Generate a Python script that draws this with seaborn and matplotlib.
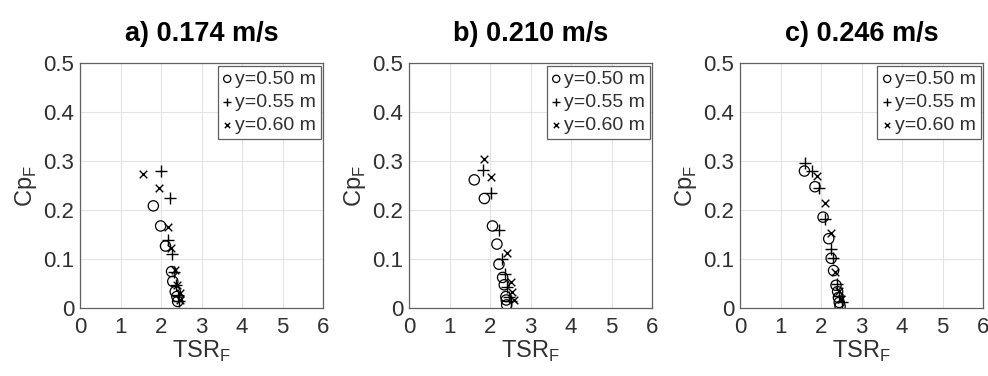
import pandas as pd
import matplotlib
matplotlib.use('Agg')
import matplotlib.pyplot as plt
import seaborn as sns

# panel titles
titles = ['a) 0.174 m/s', 'b) 0.210 m/s', 'c) 0.246 m/s']
labels = ['y=0.50 m', 'y=0.55 m', 'y=0.60 m']

# a) 0.174 m/s
a_tsr_50 = [1.81, 1.99, 2.11, 2.26, 2.29, 2.35, 2.39, 2.41]
a_cp_50 = [0.209, 0.168, 0.127, 0.075, 0.055, 0.034, 0.024, 0.014]
a_tsr_55 = [2.00, 2.21, 2.16, 2.26, 2.33, 2.37, 2.42, 2.45]
a_cp_55 = [0.281, 0.226, 0.140, 0.110, 0.075, 0.048, 0.027, 0.014]
a_tsr_60 = [1.56, 1.95, 2.16, 2.24, 2.35, 2.39, 2.47, 2.47]
a_cp_60 = [0.274, 0.245, 0.166, 0.123, 0.079, 0.048, 0.031, 0.017]

# b) 0.210 m/s
b_tsr_50 = [1.61, 1.86, 2.06, 2.17, 2.22, 2.31, 2.35, 2.39, 2.40, 2.41]
b_cp_50 = [0.262, 0.224, 0.168, 0.131, 0.090, 0.063, 0.048, 0.024, 0.017, 0.007]
b_tsr_55 = [1.82, 2.02, 2.21, 2.30, 2.37, 2.43, 2.47, 2.51]
b_cp_55 = [0.282, 0.235, 0.160, 0.100, 0.071, 0.044, 0.024, 0.014]
b_tsr_60 = [1.86, 2.02, 2.41, 2.51, 2.55, 2.59]
b_cp_60 = [0.305, 0.267, 0.112, 0.054, 0.034, 0.017]

# c) 0.246 m/s
c_tsr_50 = [1.59, 1.85, 2.05, 2.19, 2.25, 2.31, 2.37, 2.41, 2.43, 2.45, 2.47]
c_cp_50 = [0.280, 0.248, 0.186, 0.142, 0.102, 0.077, 0.047, 0.034, 0.022, 0.012, 0.004]
c_tsr_55 = [1.60, 1.78, 1.95, 2.10, 2.25, 2.29, 2.40, 2.45, 2.51]
c_cp_55 = [0.297, 0.280, 0.246, 0.183, 0.121, 0.102, 0.049, 0.026, 0.012]
c_tsr_60 = [1.91, 2.09, 2.25, 2.35, 2.45, 2.49]
c_cp_60 = [0.270, 0.214, 0.153, 0.075, 0.036, 0.018]

panels = [
    [(a_tsr_50, a_cp_50), (a_tsr_55, a_cp_55), (a_tsr_60, a_cp_60)],
    [(b_tsr_50, b_cp_50), (b_tsr_55, b_cp_55), (b_tsr_60, b_cp_60)],
    [(c_tsr_50, c_cp_50), (c_tsr_55, c_cp_55), (c_tsr_60, c_cp_60)],
]

sns.set_style('whitegrid')
plt.rcParams['font.family'] = ['Liberation Sans', 'DejaVu Sans']
plt.rcParams['mathtext.fontset'] = 'custom'
plt.rcParams['mathtext.rm'] = 'Liberation Sans'

fig = plt.figure(figsize=(9.88, 3.76), dpi=100)
lefts = [0.081, 0.414, 0.749]
txt = '#303030'

for i, left in enumerate(lefts):
    ax = fig.add_axes([left, 0.180, 0.246, 0.652])
    for j, (xs, ys) in enumerate(panels[i]):
        d = pd.DataFrame({'TSR': xs, 'Cp': ys})
        if j == 0:
            sns.scatterplot(data=d, x='TSR', y='Cp', ax=ax, marker='o', s=55,
                            facecolors='none', edgecolor='k', linewidth=0.9,
                            label=labels[j])
        elif j == 1:
            sns.scatterplot(data=d, x='TSR', y='Cp', ax=ax, marker='+', s=65,
                            color='k', linewidth=1.0, label=labels[j])
        else:
            sns.scatterplot(data=d, x='TSR', y='Cp', ax=ax, marker='x', s=30,
                            color='k', linewidth=1.0, label=labels[j])
    ax.set_xlim(0, 6)
    ax.set_ylim(0, 0.5)
    ax.set_xticks(range(0, 7))
    ax.set_yticks([0, 0.1, 0.2, 0.3, 0.4, 0.5])
    ax.set_yticklabels(['0', '0.1', '0.2', '0.3', '0.4', '0.5'])
    ax.grid(True, color='#e3e3e3', linewidth=0.8)
    for sp in ax.spines.values():
        sp.set_color('#606060')
        sp.set_linewidth(0.9)
    ax.tick_params(axis='both', direction='in', length=3, width=0.8,
                   colors='#606060', labelcolor=txt, labelsize=16)
    ax.tick_params(axis='x', pad=6)
    ax.tick_params(axis='y', pad=4)
    ax.set_xlabel('TSR$_\\mathregular{F}$', fontsize=17, color=txt, labelpad=1)
    ax.set_ylabel('Cp$_\\mathregular{F}$', fontsize=17, color=txt, labelpad=3)
    ax.set_title(titles[i], fontsize=19.5, fontweight='bold', color='k', pad=16)
    leg = ax.legend(loc='upper right', fontsize=14, frameon=True, fancybox=False,
                    handlelength=0.5, handletextpad=0.15, borderpad=0.25,
                    labelspacing=0.28, borderaxespad=0.12, markerscale=0.7)
    leg.get_frame().set_edgecolor('#606060')
    leg.get_frame().set_linewidth(0.9)
    leg.get_frame().set_alpha(1)
    for t in leg.get_texts():
        t.set_color(txt)

plt.savefig('out.png', dpi=100)
